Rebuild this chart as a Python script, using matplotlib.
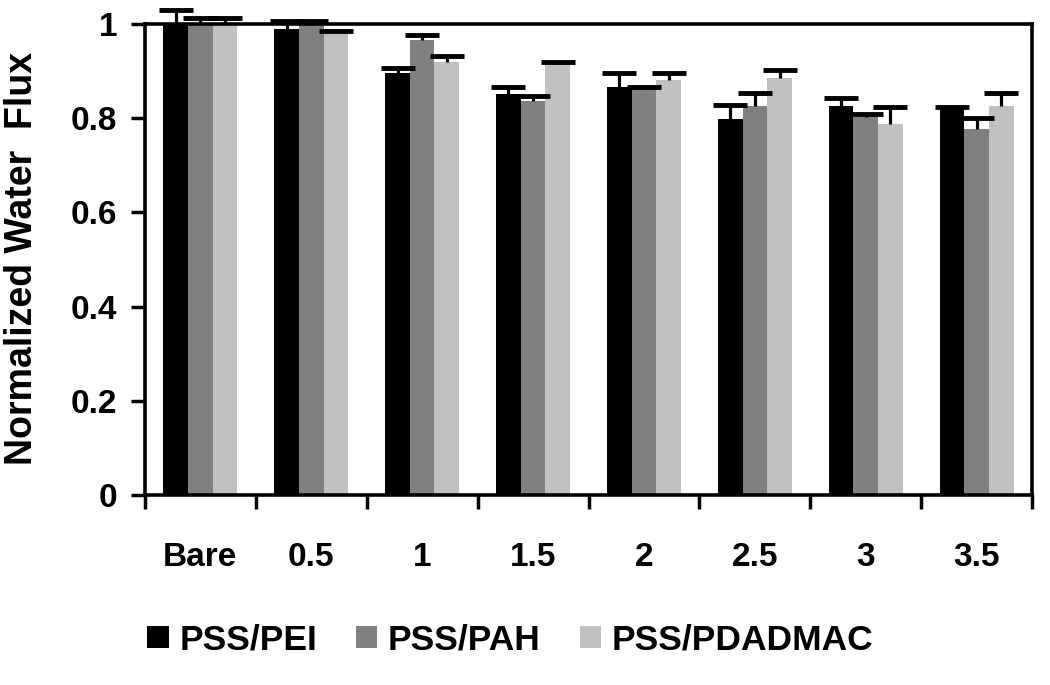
import matplotlib
matplotlib.use("Agg")
import matplotlib.pyplot as plt
import numpy as np

# data
categories = ['Bare', '0.5', '1', '1.5', '2', '2.5', '3', '3.5']
series_names = ['PSS/PEI', 'PSS/PAH', 'PSS/PDADMAC']
pei = [1.0, 0.989, 0.896, 0.851, 0.866, 0.798, 0.826, 0.822]
pah = [1.0, 0.998, 0.965, 0.837, 0.862, 0.826, 0.802, 0.777]
pdadmac = [1.0, 0.981, 0.920, 0.916, 0.880, 0.886, 0.788, 0.826]
pei_err = [0.030, 0.017, 0.011, 0.016, 0.030, 0.030, 0.016, 0.002]
pah_err = [0.013, 0.008, 0.011, 0.011, 0.005, 0.027, 0.006, 0.023]
pdadmac_err = [0.013, 0.004, 0.011, 0.004, 0.016, 0.016, 0.035, 0.027]
colors = ['#000000', '#808080', '#c0c0c0']

plt.rcParams['font.family'] = ['Liberation Sans', 'DejaVu Sans']
plt.rcParams['font.weight'] = 'bold'

fig = plt.figure(figsize=(10.5, 6.85), dpi=100)
ax = fig.add_axes([0.138, 0.2774, 0.845, 0.6876])

x = np.arange(len(categories))
width = 0.222
values = [pei, pah, pdadmac]
errors = [pei_err, pah_err, pdadmac_err]
handles = []
for i, (vals, errs) in enumerate(zip(values, errors)):
    pos = x + (i - 1) * width
    b = ax.bar(pos, vals, width, color=colors[i], edgecolor='none',
               label=series_names[i], zorder=2)
    handles.append(b)
    # upper error bars only
    eb = ax.errorbar(pos, vals, yerr=[np.zeros(len(errs)), errs], fmt='none',
                     ecolor='black', elinewidth=2.3, capsize=12, capthick=3.5,
                     zorder=3)
    caps = eb.lines[1]
    caps[0].set_visible(False)
    for art in list(caps) + list(eb.lines[2]):
        art.set_clip_on(False)

ax.set_xlim(-0.5, len(categories) - 0.5)
ax.set_ylim(0, 1)
ax.set_yticks([0, 0.2, 0.4, 0.6, 0.8, 1.0])
ax.set_yticklabels(['0', '0.2', '0.4', '0.6', '0.8', '1'])

# tick marks between groups, labels at group centres
ax.set_xticks(np.arange(-0.5, len(categories), 1.0))
ax.set_xticklabels([])
ax.set_xticks(x, minor=True)
ax.set_xticklabels(categories, minor=True)
ax.tick_params(axis='x', which='major', direction='out', length=10, width=2.5)
ax.tick_params(axis='x', which='minor', length=0, pad=34, labelsize=24)
ax.tick_params(axis='y', direction='out', length=10, width=2.5, labelsize=24, pad=10)

for s in ax.spines.values():
    s.set_linewidth(2.6)

ax.set_ylabel('Normalized Water  Flux', fontsize=27, fontweight='bold')
ax.yaxis.set_label_coords(-0.118, 0.503)

fig.legend(handles=handles, labels=series_names, loc='center', ncol=3,
           bbox_to_anchor=(0.486, 0.066), frameon=False, fontsize=25.5,
           handlelength=0.6, handleheight=0.6, handletextpad=0.3,
           columnspacing=1.1)

fig.savefig('out.png', dpi=100)
